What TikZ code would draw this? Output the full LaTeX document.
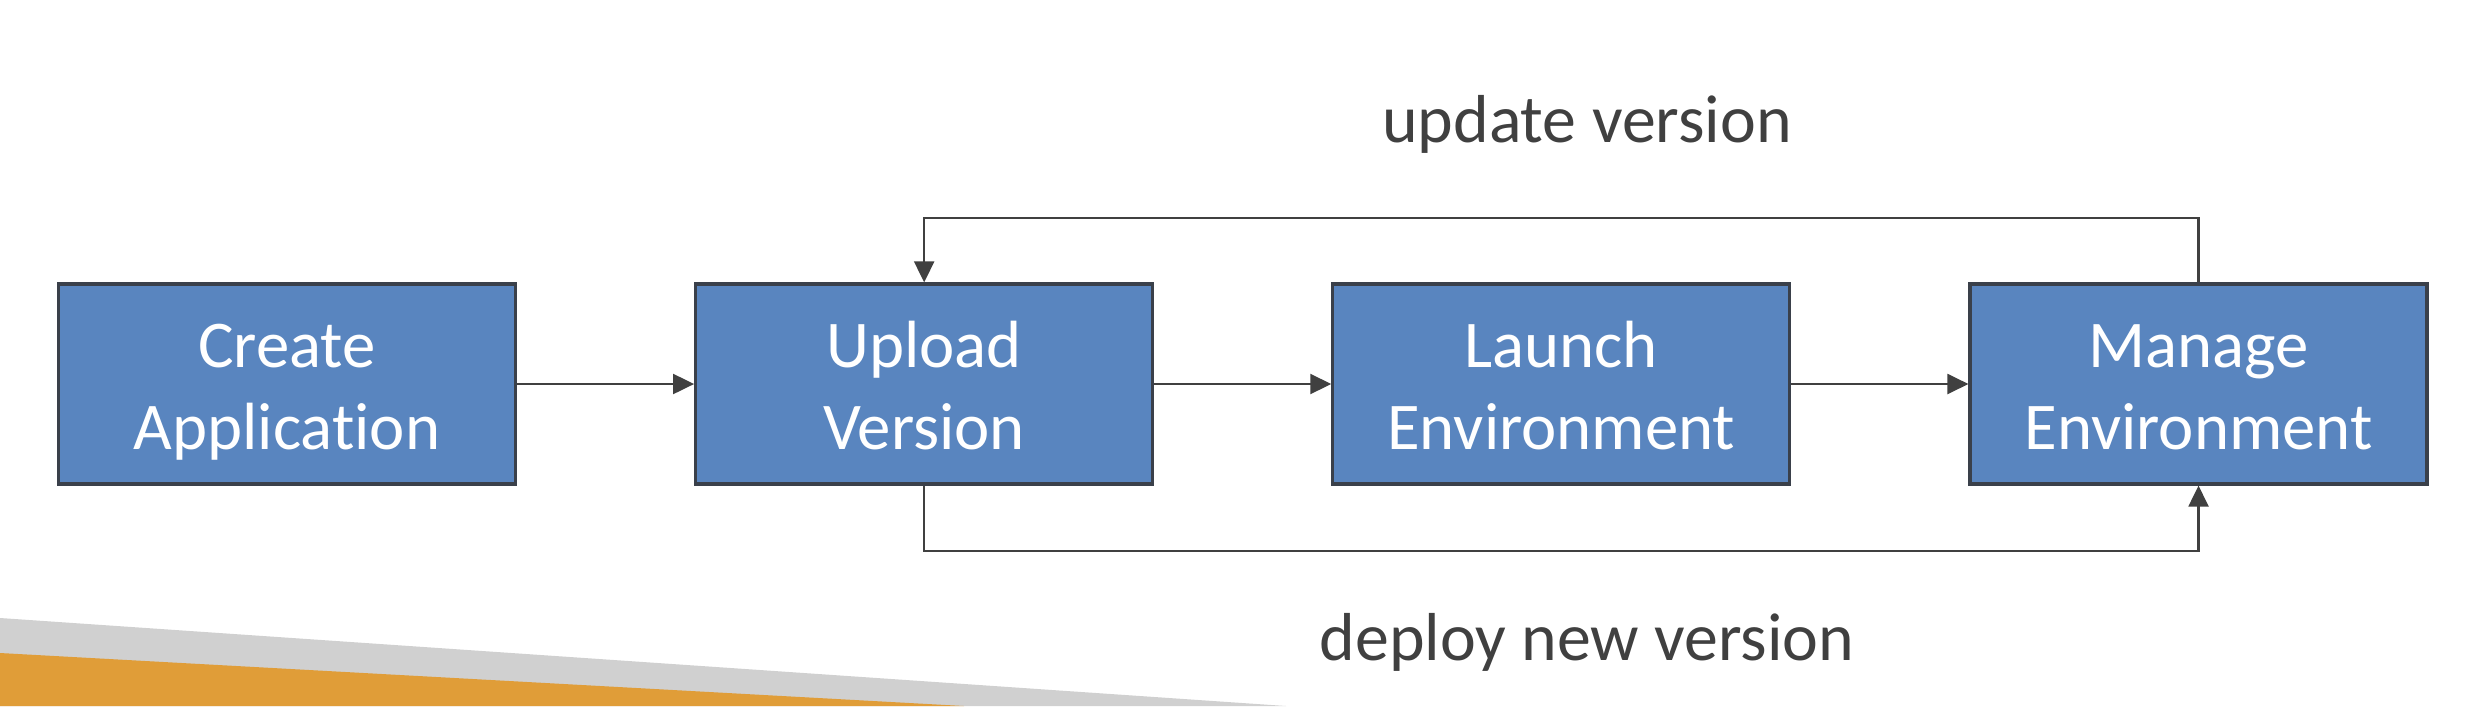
\documentclass[tikz,border=0pt]{standalone}
\usepackage{fontspec}
\setmainfont{Carlito}[Ligatures=NoCommon]
\usetikzlibrary{positioning,arrows.meta}

\definecolor{boxblue}{RGB}{89,133,191}
\definecolor{boxline}{RGB}{58,64,74}
\definecolor{linegray}{RGB}{64,64,64}
\definecolor{bandgray}{RGB}{208,208,208}
\definecolor{bandorange}{RGB}{224,157,56}

\newcommand{\twolines}[2]{\rule{0pt}{17pt}#1\\\vphantom{p}#2}

\tikzset{
  stepbox/.style={draw=boxline,line width=0.9pt,fill=boxblue,text=white,
    minimum width=4.57cm,minimum height=2cm,align=center,
    font=\fontsize{19}{23.6}\selectfont,inner sep=0pt},
  flow/.style={draw=linegray,line width=0.6pt,-{Triangle[length=0.21cm,width=0.2cm]}},
  tag/.style={text=linegray,font=\fontsize{19.3}{23}\selectfont,anchor=base}
}

\begin{document}
\begin{tikzpicture}
   \useasboundingbox (0,0) rectangle (24.72,7.06);
   \fill[white] (0,0) rectangle (24.72,7.06);

   \fill[color=bandgray] (0,.88) -- (12.86,0) -- (0,0) -- cycle;
   \fill[color=bandorange] (0,.53) -- (9.64,0) -- (0,0) -- cycle;

   \node[stepbox] (create) at (2.87,3.22) {\twolines{Create}{Application}};
   \node[stepbox,right=1.77cm of create] (upload) {\twolines{Upload}{Version}};
   \node[stepbox,right=1.77cm of upload] (launch) {\twolines{Launch}{Environment}};
   \node[stepbox,right=1.77cm of launch] (manage) {\twolines{Manage}{Environment}};

   \draw[flow] (create) -- (upload);
   \draw[flow] (upload) -- (launch);
   \draw[flow] (launch) -- (manage);

   \draw[flow] (manage.north) -- ++(0,.64) -| (upload.north);
   \draw[flow] (upload.south) -- ++(0,-.65) -| (manage.south);

   \node[tag] (update) at (15.87,5.64) {update version};
   \node[tag] (deploy) at (15.87,.46) {deploy new version};
 \end{tikzpicture}
\end{document}
